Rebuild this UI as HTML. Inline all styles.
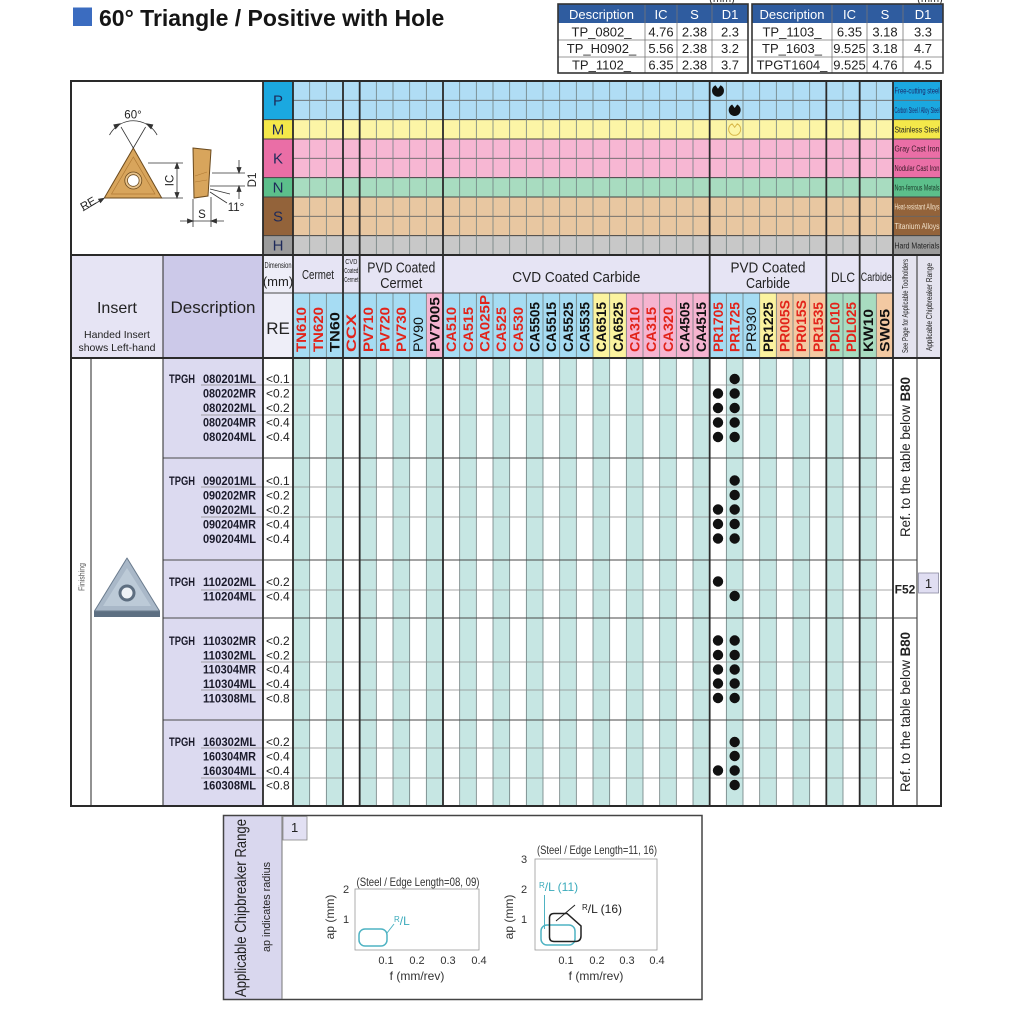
<!DOCTYPE html>
<html><head><meta charset="utf-8"><style>html,body{margin:0;padding:0;background:#fff}svg{display:block}</style></head><body>
<svg xmlns="http://www.w3.org/2000/svg" width="1010" height="1010" viewBox="0 0 1010 1010" font-family="Liberation Sans, Arial, sans-serif">
<rect width="1010" height="1010" fill="#fff"/>
<!-- Title -->
<rect x="73" y="7.5" width="19" height="18.5" fill="#3b6cc0"/>
<text x="99" y="26" font-size="23" font-weight="bold" fill="#151515">60° Triangle / Positive with Hole</text>
<!-- top tables -->
<text x="722" y="2" font-size="11" fill="#333" text-anchor="middle">(mm)</text>
<text x="930" y="2" font-size="11" fill="#333" text-anchor="middle">(mm)</text>
<g font-size="13" text-anchor="middle" fill="#222">
<rect x="558" y="4" width="190" height="19" fill="#2f5c9f"/>
<rect x="752" y="4" width="191" height="19" fill="#2f5c9f"/>
<g fill="#fff"><text x="601.5" y="19">Description</text><text x="661" y="19">IC</text><text x="694.5" y="19">S</text><text x="730" y="19">D1</text>
<text x="792" y="19">Description</text><text x="849.5" y="19">IC</text><text x="885" y="19">S</text><text x="923" y="19">D1</text></g>
<path d="M558 40H748M558 57H748M752 40H943M752 57H943M645 4V73M677 4V73M712 4V73M832 4V73M867 4V73M903 4V73" stroke="#777" stroke-width="0.8" fill="none"/>
<rect x="558" y="4" width="190" height="69" fill="none" stroke="#333" stroke-width="1.6"/>
<rect x="752" y="4" width="191" height="69" fill="none" stroke="#333" stroke-width="1.6"/>
<text x="601.5" y="36.5">TP_0802_</text><text x="661" y="36.5">4.76</text><text x="694.5" y="36.5">2.38</text><text x="730" y="36.5">2.3</text>
<text x="601.5" y="53">TP_H0902_</text><text x="661" y="53">5.56</text><text x="694.5" y="53">2.38</text><text x="730" y="53">3.2</text>
<text x="601.5" y="69.5">TP_1102_</text><text x="661" y="69.5">6.35</text><text x="694.5" y="69.5">2.38</text><text x="730" y="69.5">3.7</text>
<text x="792" y="36.5">TP_1103_</text><text x="849.5" y="36.5">6.35</text><text x="885" y="36.5">3.18</text><text x="923" y="36.5">3.3</text>
<text x="792" y="53">TP_1603_</text><text x="849.5" y="53">9.525</text><text x="885" y="53">3.18</text><text x="923" y="53">4.7</text>
<text x="792" y="69.5">TPGT1604_</text><text x="849.5" y="69.5">9.525</text><text x="885" y="69.5">4.76</text><text x="923" y="69.5">4.5</text>
</g>

<!-- Material section -->
<rect x="263" y="81" width="30" height="38.67" fill="#1ba8e0"/><rect x="293" y="81" width="600" height="38.67" fill="#b0ddf5"/><rect x="893" y="81" width="48" height="38.67" fill="#1ba8e0"/>
<rect x="263" y="119.67" width="30" height="19.33" fill="#f4e84a"/><rect x="293" y="119.67" width="600" height="19.33" fill="#fcf5a6"/><rect x="893" y="119.67" width="48" height="19.33" fill="#f4e84a"/>
<rect x="263" y="139" width="30" height="38.67" fill="#ea6ea6"/><rect x="293" y="139" width="600" height="38.67" fill="#f7b7d3"/><rect x="893" y="139" width="48" height="38.67" fill="#ea6ea6"/>
<rect x="263" y="177.67" width="30" height="19.33" fill="#5cbf8b"/><rect x="293" y="177.67" width="600" height="19.33" fill="#a8dcc0"/><rect x="893" y="177.67" width="48" height="19.33" fill="#5cbf8b"/>
<rect x="263" y="197" width="30" height="38.67" fill="#93633a"/><rect x="293" y="197" width="600" height="38.67" fill="#e8c7a1"/><rect x="893" y="197" width="48" height="38.67" fill="#93633a"/>
<rect x="263" y="235.67" width="30" height="19.33" fill="#9b9b9b"/><rect x="293" y="235.67" width="600" height="19.33" fill="#c8c8c8"/><rect x="893" y="235.67" width="48" height="19.33" fill="#9b9b9b"/>
<g font-size="15" text-anchor="middle" fill="#1e2a5a">
<text x="278" y="105.5">P</text><text x="278" y="134.5">M</text><text x="278" y="163.5">K</text><text x="278" y="192.5">N</text><text x="278" y="221.5">S</text><text x="278" y="250.5">H</text></g>
<g font-size="8">
<text x="894.5" y="93.7" fill="#1a2a6a" textLength="45" lengthAdjust="spacingAndGlyphs">Free-cutting steel</text>
<text x="894.5" y="113" fill="#1a2a6a" textLength="45" lengthAdjust="spacingAndGlyphs">Carbon Steel / Alloy Steel</text>
<text x="894.5" y="132.3" fill="#222" textLength="45" lengthAdjust="spacingAndGlyphs">Stainless Steel</text>
<text x="894.5" y="151.7" fill="#3a1a2a" textLength="45" lengthAdjust="spacingAndGlyphs">Gray Cast Iron</text>
<text x="894.5" y="171" fill="#3a1a2a" textLength="45" lengthAdjust="spacingAndGlyphs">Nodular Cast Iron</text>
<text x="894.5" y="190.3" fill="#1a3a2a" textLength="45" lengthAdjust="spacingAndGlyphs">Non-ferrous Metals</text>
<text x="894.5" y="209.7" fill="#f0e0c8" textLength="45" lengthAdjust="spacingAndGlyphs">Heat-resistant Alloys</text>
<text x="894.5" y="229" fill="#f0e0c8" textLength="45" lengthAdjust="spacingAndGlyphs">Titanium Alloys</text>
<text x="894.5" y="248.3" fill="#222" textLength="45" lengthAdjust="spacingAndGlyphs">Hard Materials</text></g>
<path d="M293 100.33H941M293 158.33H941M293 216.33H941" stroke="#666" stroke-width="0.8"/>
<path d="M263 119.67H941M263 139H941M263 177.67H941M263 197H941M263 235.67H941" stroke="#444" stroke-width="1"/>
<!-- symbols -->
<path d="M715.46 85.26A6 6 0 1 0 720.54 85.26L718 88.7Z" fill="#111"/>
<path d="M732.13 104.56A6 6 0 1 0 737.21 104.56L734.67 108Z" fill="#111"/>
<path d="M732.13 123.86A6 6 0 1 0 737.21 123.86L734.67 127.3Z" fill="none" stroke="#d8b84a" stroke-width="1"/>

<!-- Diagram -->
<g stroke="#333" stroke-width="0.8" fill="none">
<polygon points="133.3,148 104.3,198 161.7,198" fill="#d8a55c" stroke="#6b4a1e" stroke-width="1"/>
<polygon points="133.3,157 111.5,194 155,194" stroke="#b07a35" stroke-width="0.7"/>
<circle cx="133.3" cy="180.5" r="8.5" fill="#e9c38a" stroke="#6b4a1e"/>
<circle cx="133.3" cy="180.5" r="5.8" fill="#fff" stroke="#6b4a1e"/>
<path d="M133.3 148L121 127M133.3 148L145.6 127"/>
<path d="M109.5 135A27 27 0 0 1 157.1 135"/>
<polygon points="120,123.8 113.8,124.8 115.6,128.8" fill="#333"/>
<polygon points="146.6,123.8 152.8,124.8 151,128.8" fill="#333"/>
<path d="M83 211L102 199.5"/><polygon points="104,198.3 98.5,199.2 100.5,202.6" fill="#333"/>
<path d="M148 163H183M162 198H183M177 163V198"/>
<polygon points="177,163 175,168.5 179,168.5" fill="#333"/><polygon points="177,198 175,192.5 179,192.5" fill="#333"/>
<polygon points="193,148 211,150 208,196 194,198" fill="#d8a55c" stroke="#6b4a1e" stroke-width="1"/>
<path d="M195 176L207 172M195 182L207 180" stroke="#b07a35" stroke-width="0.6"/>
<path d="M212 173H245M210 186H245M239 160V173M239 186V199"/>
<polygon points="239,173 237,167.5 241,167.5" fill="#333"/><polygon points="239,186 237,191.5 241,191.5" fill="#333"/>
<path d="M210 189L230 194M210 192L227 203"/>
<path d="M193 199V227M211 197V227M180 221H224"/>
<polygon points="193,221 187.5,219 187.5,223" fill="#333"/><polygon points="211,221 216.5,219 216.5,223" fill="#333"/>
</g>
<g font-size="11.5" fill="#222" text-anchor="middle">
<text x="133" y="118.5">60°</text>
<text x="90" y="207" transform="rotate(-30 90 207)">RE</text>
<text transform="translate(173.5,180.5) rotate(-90)">IC</text>
<text transform="translate(256,180) rotate(-90)">D1</text>
<text x="202" y="218">S</text>
<text x="236" y="211">11°</text>
</g>

<!-- Header section -->
<rect x="71" y="255" width="92" height="103" fill="#e6e4f4"/>
<rect x="163" y="255" width="100" height="103" fill="#ccc9e9"/>
<rect x="263" y="255" width="30" height="103" fill="#eeeef8"/>
<rect x="293" y="255" width="600" height="38" fill="#e6e4f4"/>
<rect x="893" y="255" width="48" height="103" fill="#e4e3ef"/>
<g>
<rect x="293" y="293" width="16.67" height="65" fill="#a6dcf3"/>
<rect x="309.67" y="293" width="16.67" height="65" fill="#a6dcf3"/>
<rect x="326.33" y="293" width="16.67" height="65" fill="#a6dcf3"/>
<rect x="343" y="293" width="16.67" height="65" fill="#a6dcf3"/>
<rect x="359.67" y="293" width="16.67" height="65" fill="#a6dcf3"/>
<rect x="376.33" y="293" width="16.67" height="65" fill="#a6dcf3"/>
<rect x="393" y="293" width="16.67" height="65" fill="#a6dcf3"/>
<rect x="409.67" y="293" width="16.67" height="65" fill="#a6dcf3"/>
<rect x="426.33" y="293" width="16.67" height="65" fill="#f6b4d0"/>
<rect x="443" y="293" width="150" height="65" fill="#a6dcf3"/>
<rect x="593" y="293" width="33.33" height="65" fill="#fbf39f"/>
<rect x="626.33" y="293" width="83.33" height="65" fill="#f6b4d0"/>
<rect x="709.67" y="293" width="50" height="65" fill="#a6dcf3"/>
<rect x="759.67" y="293" width="16.67" height="65" fill="#fbf39f"/>
<rect x="776.33" y="293" width="50" height="65" fill="#f3c9a2"/>
<rect x="826.33" y="293" width="50" height="65" fill="#a8dcc0"/>
<rect x="876.33" y="293" width="16.67" height="65" fill="#f3c9a2"/>
</g>
<g font-size="13.5" font-weight="bold">
<text transform="translate(306.1,352) rotate(-90)" fill="#e2231a" textLength="45" lengthAdjust="spacingAndGlyphs">TN610</text>
<text transform="translate(322.8,352) rotate(-90)" fill="#e2231a" textLength="45" lengthAdjust="spacingAndGlyphs">TN620</text>
<text transform="translate(339.5,352) rotate(-90)" fill="#111" textLength="40" lengthAdjust="spacingAndGlyphs">TN60</text>
<text transform="translate(356.1,352) rotate(-90)" fill="#e2231a" textLength="38" lengthAdjust="spacingAndGlyphs">CCX</text>
<text transform="translate(372.8,352) rotate(-90)" fill="#e2231a" textLength="45" lengthAdjust="spacingAndGlyphs">PV710</text>
<text transform="translate(389.5,352) rotate(-90)" fill="#e2231a" textLength="45" lengthAdjust="spacingAndGlyphs">PV720</text>
<text transform="translate(406.1,352) rotate(-90)" fill="#e2231a" textLength="45" lengthAdjust="spacingAndGlyphs">PV730</text>
<text transform="translate(422.8,352) rotate(-90)" fill="#111" font-weight="normal" textLength="35" lengthAdjust="spacingAndGlyphs">PV90</text>
<text transform="translate(439.5,352) rotate(-90)" fill="#111" textLength="55" lengthAdjust="spacingAndGlyphs">PV7005</text>
<text transform="translate(456.1,352) rotate(-90)" fill="#e2231a" textLength="45" lengthAdjust="spacingAndGlyphs">CA510</text>
<text transform="translate(472.8,352) rotate(-90)" fill="#e2231a" textLength="45" lengthAdjust="spacingAndGlyphs">CA515</text>
<text transform="translate(489.5,352) rotate(-90)" fill="#e2231a" textLength="57" lengthAdjust="spacingAndGlyphs">CA025P</text>
<text transform="translate(506.1,352) rotate(-90)" fill="#e2231a" textLength="45" lengthAdjust="spacingAndGlyphs">CA525</text>
<text transform="translate(522.8,352) rotate(-90)" fill="#e2231a" textLength="45" lengthAdjust="spacingAndGlyphs">CA530</text>
<text transform="translate(539.5,352) rotate(-90)" fill="#111" textLength="50" lengthAdjust="spacingAndGlyphs">CA5505</text>
<text transform="translate(556.1,352) rotate(-90)" fill="#111" textLength="50" lengthAdjust="spacingAndGlyphs">CA5515</text>
<text transform="translate(572.8,352) rotate(-90)" fill="#111" textLength="50" lengthAdjust="spacingAndGlyphs">CA5525</text>
<text transform="translate(589.5,352) rotate(-90)" fill="#111" textLength="50" lengthAdjust="spacingAndGlyphs">CA5535</text>
<text transform="translate(606.1,352) rotate(-90)" fill="#111" textLength="50" lengthAdjust="spacingAndGlyphs">CA6515</text>
<text transform="translate(622.8,352) rotate(-90)" fill="#111" textLength="50" lengthAdjust="spacingAndGlyphs">CA6525</text>
<text transform="translate(639.5,352) rotate(-90)" fill="#e2231a" textLength="45" lengthAdjust="spacingAndGlyphs">CA310</text>
<text transform="translate(656.1,352) rotate(-90)" fill="#e2231a" textLength="45" lengthAdjust="spacingAndGlyphs">CA315</text>
<text transform="translate(672.8,352) rotate(-90)" fill="#e2231a" textLength="45" lengthAdjust="spacingAndGlyphs">CA320</text>
<text transform="translate(689.5,352) rotate(-90)" fill="#111" textLength="50" lengthAdjust="spacingAndGlyphs">CA4505</text>
<text transform="translate(706.1,352) rotate(-90)" fill="#111" textLength="50" lengthAdjust="spacingAndGlyphs">CA4515</text>
<text transform="translate(722.8,352) rotate(-90)" fill="#e2231a" textLength="50" lengthAdjust="spacingAndGlyphs">PR1705</text>
<text transform="translate(739.5,352) rotate(-90)" fill="#e2231a" textLength="50" lengthAdjust="spacingAndGlyphs">PR1725</text>
<text transform="translate(756.1,352) rotate(-90)" fill="#111" font-weight="normal" textLength="45" lengthAdjust="spacingAndGlyphs">PR930</text>
<text transform="translate(772.8,352) rotate(-90)" fill="#111" textLength="50" lengthAdjust="spacingAndGlyphs">PR1225</text>
<text transform="translate(789.5,352) rotate(-90)" fill="#e2231a" textLength="52" lengthAdjust="spacingAndGlyphs">PR005S</text>
<text transform="translate(806.1,352) rotate(-90)" fill="#e2231a" textLength="52" lengthAdjust="spacingAndGlyphs">PR015S</text>
<text transform="translate(822.8,352) rotate(-90)" fill="#e2231a" textLength="50" lengthAdjust="spacingAndGlyphs">PR1535</text>
<text transform="translate(839.5,352) rotate(-90)" fill="#e2231a" textLength="50" lengthAdjust="spacingAndGlyphs">PDL010</text>
<text transform="translate(856.1,352) rotate(-90)" fill="#e2231a" textLength="50" lengthAdjust="spacingAndGlyphs">PDL025</text>
<text transform="translate(872.8,352) rotate(-90)" fill="#111" textLength="43" lengthAdjust="spacingAndGlyphs">KW10</text>
<text transform="translate(889.5,352) rotate(-90)" fill="#111" textLength="43" lengthAdjust="spacingAndGlyphs">SW05</text>
</g>
<g fill="#222" text-anchor="middle">
<text x="117" y="313" font-size="16">Insert</text>
<text x="117" y="338" font-size="10.5">Handed Insert</text>
<text x="117" y="351" font-size="10.5">shows Left-hand</text>
<text x="213" y="313" font-size="17">Description</text>
<text x="278" y="268" font-size="8" textLength="27" lengthAdjust="spacingAndGlyphs">Dimension</text>
<text x="278" y="286" font-size="13">(mm)</text>
<text x="278" y="334" font-size="17">RE</text>
<text x="318" y="279" font-size="13" textLength="32" lengthAdjust="spacingAndGlyphs">Cermet</text>
<text x="351.3" y="264" font-size="7" textLength="12" lengthAdjust="spacingAndGlyphs">CVD</text>
<text x="351.3" y="273" font-size="7" textLength="14" lengthAdjust="spacingAndGlyphs">Coated</text>
<text x="351.3" y="282" font-size="7" textLength="14" lengthAdjust="spacingAndGlyphs">Cermet</text>
<text x="401.3" y="272.5" font-size="15" textLength="68" lengthAdjust="spacingAndGlyphs">PVD Coated</text>
<text x="401.3" y="288" font-size="15" textLength="42" lengthAdjust="spacingAndGlyphs">Cermet</text>
<text x="576.3" y="282" font-size="15" textLength="128" lengthAdjust="spacingAndGlyphs">CVD Coated Carbide</text>
<text x="768" y="272.5" font-size="15" textLength="75" lengthAdjust="spacingAndGlyphs">PVD Coated</text>
<text x="768" y="288" font-size="15" textLength="44" lengthAdjust="spacingAndGlyphs">Carbide</text>
<text x="843" y="282" font-size="14" textLength="24" lengthAdjust="spacingAndGlyphs">DLC</text>
<text x="876.3" y="281" font-size="12" textLength="31" lengthAdjust="spacingAndGlyphs">Carbide</text>
<text transform="translate(908,306) rotate(-90)" font-size="8" textLength="94" lengthAdjust="spacingAndGlyphs">See Page for Applicable Toolholders</text>
<text transform="translate(932,307) rotate(-90)" font-size="8.5" textLength="88" lengthAdjust="spacingAndGlyphs">Applicable Chipbreaker Range</text>
</g>

<!-- Body -->
<rect x="163" y="358" width="100" height="448" fill="#dcdaf0"/>
<g fill="#c6e6e3">
<rect x="293" y="358" width="16.67" height="448"/><rect x="326.33" y="358" width="16.67" height="448"/><rect x="359.67" y="358" width="16.67" height="448"/><rect x="393" y="358" width="16.67" height="448"/><rect x="426.33" y="358" width="16.67" height="448"/><rect x="459.67" y="358" width="16.67" height="448"/><rect x="493" y="358" width="16.67" height="448"/><rect x="526.33" y="358" width="16.67" height="448"/><rect x="559.67" y="358" width="16.67" height="448"/><rect x="593" y="358" width="16.67" height="448"/><rect x="626.33" y="358" width="16.67" height="448"/><rect x="659.67" y="358" width="16.67" height="448"/><rect x="693" y="358" width="16.67" height="448"/><rect x="726.33" y="358" width="16.67" height="448"/><rect x="759.67" y="358" width="16.67" height="448"/><rect x="793" y="358" width="16.67" height="448"/><rect x="826.33" y="358" width="16.67" height="448"/><rect x="859.67" y="358" width="16.67" height="448"/>
</g>
<!-- vertical grid lines -->
<path d="M309.67 81V255M309.67 293V806M326.33 81V255M326.33 293V806M376.33 81V255M376.33 293V806M393 81V255M393 293V806M409.67 81V255M409.67 293V806M426.33 81V255M426.33 293V806M459.67 81V255M459.67 293V806M476.33 81V255M476.33 293V806M493 81V255M493 293V806M509.67 81V255M509.67 293V806M526.33 81V255M526.33 293V806M543 81V255M543 293V806M559.67 81V255M559.67 293V806M576.33 81V255M576.33 293V806M593 81V255M593 293V806M609.67 81V255M609.67 293V806M626.33 81V255M626.33 293V806M643 81V255M643 293V806M659.67 81V255M659.67 293V806M676.33 81V255M676.33 293V806M693 81V255M693 293V806M726.33 81V255M726.33 293V806M743 81V255M743 293V806M759.67 81V255M759.67 293V806M776.33 81V255M776.33 293V806M793 81V255M793 293V806M809.67 81V255M809.67 293V806M843 81V255M843 293V806M876.33 81V255M876.33 293V806" stroke="#6f7f7f" stroke-width="0.8" fill="none"/>
<!-- horizontal body lines -->
<path d="M201 385H893M201 415H893M201 487H893M201 517H893M201 590H893M201 662H893M201 690H893M201 748H893M201 778H893" stroke="#8a8a8a" stroke-width="0.8"/>
<path d="M163 458H893M163 560H917M163 618H917M163 720H893M263 293H893" stroke="#4a4a4a" stroke-width="1"/>
<!-- thick separators -->
<path d="M293 81V806M343 81V806M359.67 81V806M443 81V806M709.67 81V806M826.33 81V806M859.67 81V806M893 81V806M263 81V806" stroke="#2a2a2a" stroke-width="1.8" fill="none"/>
<path d="M163 255V806M91 358V806M917 255V806" stroke="#3a3a3a" stroke-width="1.1" fill="none"/>
<path d="M71 255H941M71 358H941" stroke="#2a2a2a" stroke-width="2"/>
<rect x="71" y="81" width="870" height="725" fill="none" stroke="#2a2a2a" stroke-width="2"/>

<!-- Insert image -->
<polygon points="127,562 94,611 94,617 160,617 160,611" fill="#5d6f82"/>
<polygon points="127,558 94.5,611 159.5,611" fill="#a9b8c8" stroke="#6b7c8e" stroke-width="1" stroke-linejoin="round"/>
<polygon points="127,568 103,606 151,606" fill="#bccad7"/>
<circle cx="127" cy="593" r="8.5" fill="#5d6e80"/>
<circle cx="127" cy="593" r="5.5" fill="#eef2f6"/>
<text transform="translate(84.5,577) rotate(-90)" font-size="8" fill="#555" text-anchor="middle" textLength="28" lengthAdjust="spacingAndGlyphs">Finishing</text>

<!-- Description texts -->
<g font-size="12" font-weight="bold" fill="#1a1a2a">
<text x="169" y="383" textLength="26" lengthAdjust="spacingAndGlyphs">TPGH</text><text x="203" y="383" textLength="53" lengthAdjust="spacingAndGlyphs">080201ML</text>
<text x="203" y="397.5" textLength="53" lengthAdjust="spacingAndGlyphs">080202MR</text>
<text x="203" y="412" textLength="53" lengthAdjust="spacingAndGlyphs">080202ML</text>
<text x="203" y="426.5" textLength="53" lengthAdjust="spacingAndGlyphs">080204MR</text>
<text x="203" y="441" textLength="53" lengthAdjust="spacingAndGlyphs">080204ML</text>
<text x="169" y="485" textLength="26" lengthAdjust="spacingAndGlyphs">TPGH</text><text x="203" y="485" textLength="53" lengthAdjust="spacingAndGlyphs">090201ML</text>
<text x="203" y="499.5" textLength="53" lengthAdjust="spacingAndGlyphs">090202MR</text>
<text x="203" y="514" textLength="53" lengthAdjust="spacingAndGlyphs">090202ML</text>
<text x="203" y="528.5" textLength="53" lengthAdjust="spacingAndGlyphs">090204MR</text>
<text x="203" y="543" textLength="53" lengthAdjust="spacingAndGlyphs">090204ML</text>
<text x="169" y="586" textLength="26" lengthAdjust="spacingAndGlyphs">TPGH</text><text x="203" y="586" textLength="53" lengthAdjust="spacingAndGlyphs">110202ML</text>
<text x="203" y="600.5" textLength="53" lengthAdjust="spacingAndGlyphs">110204ML</text>
<text x="169" y="645" textLength="26" lengthAdjust="spacingAndGlyphs">TPGH</text><text x="203" y="645" textLength="53" lengthAdjust="spacingAndGlyphs">110302MR</text>
<text x="203" y="659.5" textLength="53" lengthAdjust="spacingAndGlyphs">110302ML</text>
<text x="203" y="673.5" textLength="53" lengthAdjust="spacingAndGlyphs">110304MR</text>
<text x="203" y="688" textLength="53" lengthAdjust="spacingAndGlyphs">110304ML</text>
<text x="203" y="702.5" textLength="53" lengthAdjust="spacingAndGlyphs">110308ML</text>
<text x="169" y="746" textLength="26" lengthAdjust="spacingAndGlyphs">TPGH</text><text x="203" y="746" textLength="53" lengthAdjust="spacingAndGlyphs">160302ML</text>
<text x="203" y="760.5" textLength="53" lengthAdjust="spacingAndGlyphs">160304MR</text>
<text x="203" y="775" textLength="53" lengthAdjust="spacingAndGlyphs">160304ML</text>
<text x="203" y="789.5" textLength="53" lengthAdjust="spacingAndGlyphs">160308ML</text>
</g>
<g font-size="12" fill="#222">
<text x="266" y="383">&lt;0.1</text><text x="266" y="397.5">&lt;0.2</text><text x="266" y="412">&lt;0.2</text><text x="266" y="426.5">&lt;0.4</text><text x="266" y="441">&lt;0.4</text>
<text x="266" y="485">&lt;0.1</text><text x="266" y="499.5">&lt;0.2</text><text x="266" y="514">&lt;0.2</text><text x="266" y="528.5">&lt;0.4</text><text x="266" y="543">&lt;0.4</text>
<text x="266" y="586">&lt;0.2</text><text x="266" y="600.5">&lt;0.4</text>
<text x="266" y="645">&lt;0.2</text><text x="266" y="659.5">&lt;0.2</text><text x="266" y="673.5">&lt;0.4</text><text x="266" y="688">&lt;0.4</text><text x="266" y="702.5">&lt;0.8</text>
<text x="266" y="746">&lt;0.2</text><text x="266" y="760.5">&lt;0.4</text><text x="266" y="775">&lt;0.4</text><text x="266" y="789.5">&lt;0.8</text>
</g>
<!-- dots -->
<g fill="#111">
<circle cx="734.67" cy="379" r="5.2"/>
<circle cx="718" cy="393.5" r="5.2"/><circle cx="734.67" cy="393.5" r="5.2"/>
<circle cx="718" cy="408" r="5.2"/><circle cx="734.67" cy="408" r="5.2"/>
<circle cx="718" cy="422.5" r="5.2"/><circle cx="734.67" cy="422.5" r="5.2"/>
<circle cx="718" cy="437" r="5.2"/><circle cx="734.67" cy="437" r="5.2"/>
<circle cx="734.67" cy="480.5" r="5.2"/>
<circle cx="734.67" cy="495" r="5.2"/>
<circle cx="718" cy="509.5" r="5.2"/><circle cx="734.67" cy="509.5" r="5.2"/>
<circle cx="718" cy="524" r="5.2"/><circle cx="734.67" cy="524" r="5.2"/>
<circle cx="718" cy="538.5" r="5.2"/><circle cx="734.67" cy="538.5" r="5.2"/>
<circle cx="718" cy="581.5" r="5.2"/>
<circle cx="734.67" cy="596" r="5.2"/>
<circle cx="718" cy="640.5" r="5.2"/><circle cx="734.67" cy="640.5" r="5.2"/>
<circle cx="718" cy="655" r="5.2"/><circle cx="734.67" cy="655" r="5.2"/>
<circle cx="718" cy="669.5" r="5.2"/><circle cx="734.67" cy="669.5" r="5.2"/>
<circle cx="718" cy="683.5" r="5.2"/><circle cx="734.67" cy="683.5" r="5.2"/>
<circle cx="718" cy="698" r="5.2"/><circle cx="734.67" cy="698" r="5.2"/>
<circle cx="734.67" cy="742" r="5.2"/>
<circle cx="734.67" cy="756" r="5.2"/>
<circle cx="718" cy="770.5" r="5.2"/><circle cx="734.67" cy="770.5" r="5.2"/>
<circle cx="734.67" cy="785" r="5.2"/>
</g>
<!-- ref column -->
<g font-size="14" fill="#222" text-anchor="middle">
<text transform="translate(910,457) rotate(-90)" textLength="160" lengthAdjust="spacingAndGlyphs">Ref. to the table below <tspan font-weight="bold">B80</tspan></text>
<text transform="translate(910,712) rotate(-90)" textLength="160" lengthAdjust="spacingAndGlyphs">Ref. to the table below <tspan font-weight="bold">B80</tspan></text>
<text x="905" y="593.5" font-size="12" font-weight="bold">F52</text>
</g>
<rect x="918.5" y="573" width="20" height="20" fill="#e0def2" stroke="#8a8aa0" stroke-width="0.8"/>
<text x="928.5" y="588" font-size="13" fill="#222" text-anchor="middle">1</text>

<!-- Bottom chipbreaker box -->
<rect x="224" y="816" width="58" height="183" fill="#d9d7ee"/>
<rect x="223.5" y="815.5" width="478.5" height="184" fill="none" stroke="#444" stroke-width="1.5"/>
<path d="M282 816V999" stroke="#777" stroke-width="1"/>
<text transform="translate(246,997) rotate(-90)" font-size="16" fill="#222" textLength="178" lengthAdjust="spacingAndGlyphs">Applicable Chipbreaker Range</text>
<text transform="translate(270,952) rotate(-90)" font-size="11" fill="#222" textLength="90" lengthAdjust="spacingAndGlyphs">ap indicates radius</text>
<rect x="283" y="816.5" width="24" height="23.5" fill="#e2e0f3" stroke="#888" stroke-width="0.8"/>
<text x="291" y="832" font-size="13" fill="#222">1</text>
<g font-size="11" fill="#333" text-anchor="middle">
<!-- chart 1 -->
<rect x="355" y="889" width="124" height="61" fill="none" stroke="#999" stroke-width="0.8"/>
<text x="346" y="893">2</text><text x="346" y="923">1</text>
<text x="386" y="964">0.1</text><text x="417" y="964">0.2</text><text x="448" y="964">0.3</text><text x="479" y="964">0.4</text>
<text x="417" y="980" font-size="12">f (mm/rev)</text>
<text transform="translate(334,917) rotate(-90)" font-size="12">ap (mm)</text>
<text x="418" y="886" font-size="12" textLength="123" lengthAdjust="spacingAndGlyphs">(Steel / Edge Length=08, 09)</text>
<rect x="359" y="929" width="28" height="17" rx="6" fill="none" stroke="#4fb3c3" stroke-width="1.5"/>
<path d="M387 933L394 924" stroke="#4fb3c3" stroke-width="1"/>
</g>
<text x="394" y="925" fill="#3aaabb" font-size="12" font-family="Liberation Sans, Arial, sans-serif"><tspan font-size="8" dy="-3">R</tspan><tspan dy="3">/L</tspan></text>
<g font-size="11" fill="#333" text-anchor="middle">
<!-- chart 2 -->
<rect x="535" y="859" width="122" height="91" fill="none" stroke="#999" stroke-width="0.8"/>
<text x="524" y="863">3</text><text x="524" y="893">2</text><text x="524" y="923">1</text>
<text x="566" y="964">0.1</text><text x="597" y="964">0.2</text><text x="627" y="964">0.3</text><text x="657" y="964">0.4</text>
<text x="596" y="980" font-size="12">f (mm/rev)</text>
<text transform="translate(513,917) rotate(-90)" font-size="12">ap (mm)</text>
<text x="597" y="854" font-size="12" textLength="120" lengthAdjust="spacingAndGlyphs">(Steel / Edge Length=11, 16)</text>
<rect x="541" y="925" width="34" height="20" rx="6" fill="none" stroke="#4fb3c3" stroke-width="1.5"/>
<path d="M554 913.5L567 913.5L581 926L581 936Q581 941.5 575 941.5L554 941.5Q549.5 941.5 549.5 937L549.5 918Q549.5 913.5 554 913.5Z" fill="none" stroke="#222" stroke-width="1.5"/>
<path d="M544.5 895V929" stroke="#4fb3c3" stroke-width="1"/>
<path d="M556 921L575 905" stroke="#222" stroke-width="1"/>
</g>
<text x="539" y="891" fill="#3aaabb" font-size="12"><tspan font-size="8" dy="-3">R</tspan><tspan dy="3">/L (11)</tspan></text>
<text x="582" y="913" fill="#222" font-size="12"><tspan font-size="8" dy="-3">R</tspan><tspan dy="3">/L (16)</tspan></text>
</svg>
</body></html>
